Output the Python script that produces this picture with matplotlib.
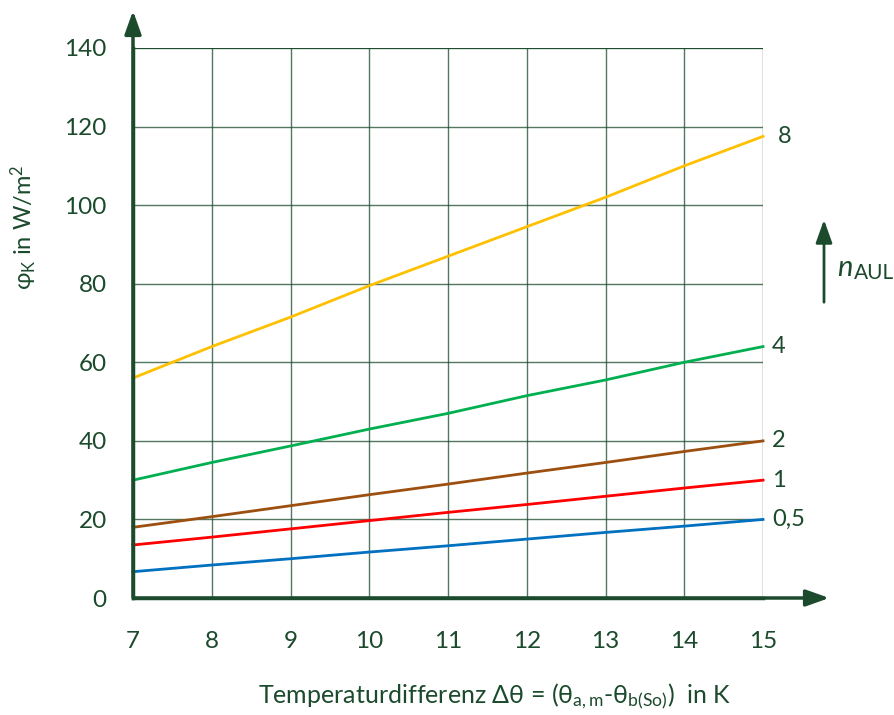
import matplotlib.pyplot as plt

dt = [7, 8, 9, 10, 11, 12, 13, 14, 15]
phi_8 = [56, 64, 71.5, 79.5, 87, 94.5, 102, 110, 117.5]
phi_4 = [30, 34.5, 38.7, 43, 47, 51.5, 55.5, 60, 64]
phi_2 = [18, 20.7, 23.5, 26.3, 29, 31.8, 34.5, 37.3, 40]
phi_1 = [13.5, 15.5, 17.6, 19.7, 21.8, 23.8, 25.9, 28, 30]
phi_05 = [6.7, 8.4, 10, 11.7, 13.3, 15, 16.7, 18.3, 20]
n_labels = ['8', '4', '2', '1', '0,5']
y_ticks = [0, 20, 40, 60, 80, 100, 120, 140]

dk = '#1b4a2c'
plt.rcParams['font.family'] = ['Lato', 'DejaVu Sans']
plt.rcParams['mathtext.fontset'] = 'custom'
plt.rcParams['mathtext.rm'] = 'Lato'
plt.rcParams['mathtext.it'] = 'Lato:italic'

fig = plt.figure(figsize=(8.94, 7.15), dpi=100)
ax = fig.add_axes([0.1488, 0.1636, 0.8535 - 0.1488, 0.9329 - 0.1636])
ax.set_xlim(7, 15)
ax.set_ylim(0, 140)
ax.set_xticks(dt)
ax.set_yticks(y_ticks)
ax.grid(True, color=dk, linewidth=1, alpha=0.75)
ax.tick_params(length=0, labelsize=17.5, colors=dk)
ax.tick_params(axis='y', pad=19)
ax.tick_params(axis='x', pad=24)
for s in ['top', 'right']:
    ax.spines[s].set_visible(False)
ax.spines['left'].set_color(dk)
ax.spines['bottom'].set_color(dk)
ax.spines['left'].set_linewidth(2.5)
ax.spines['bottom'].set_linewidth(2.5)
ax.axhline(140, color=dk, linewidth=1.3)

series = [(phi_8, '#ffc000'), (phi_4, '#00b050'), (phi_2, '#9c4f0f'),
          (phi_1, '#ff0000'), (phi_05, '#0070c0')]
offs = [0.27, 0.2, 0.2, 0.2, 0.33]
for (vals, c), lab, ox in zip(series, n_labels, offs):
    ax.plot(dt, vals, color=c, linewidth=2, clip_on=False)
    ax.text(15 + ox, vals[-1], lab, fontsize=17, color=dk,
            ha='center', va='center', clip_on=False)

# axis arrows
ax.annotate('', xy=(133 / 894, 1 - 8 / 715), xytext=(133 / 894, 1 - 600 / 715),
            xycoords='figure fraction', textcoords='figure fraction',
            arrowprops=dict(arrowstyle='-|>,head_length=1.4,head_width=0.5',
                            color=dk, lw=2.5))
ax.annotate('', xy=(832 / 894, 1 - 598 / 715), xytext=(131 / 894, 1 - 598 / 715),
            xycoords='figure fraction', textcoords='figure fraction',
            arrowprops=dict(arrowstyle='-|>,head_length=1.4,head_width=0.5',
                            color=dk, lw=2.5))
# n_AUL arrow
ax.annotate('', xy=(824 / 894, 1 - 217 / 715), xytext=(824 / 894, 1 - 305 / 715),
            xycoords='figure fraction', textcoords='figure fraction',
            arrowprops=dict(arrowstyle='-|>,head_length=1.4,head_width=0.5',
                            color=dk, lw=2))
fig.text(837 / 894, 1 - 268 / 715, r'$n$', fontsize=21, color=dk, va='center')
fig.text(854 / 894, 1 - 273 / 715, 'AUL', fontsize=15, color=dk, va='center')

fig.text(24 / 894, 1 - 227 / 715, r'φ$_\mathrm{K}$ in W/m$^2$', rotation=90,
         fontsize=17, color=dk, ha='center', va='center')
fig.text(495 / 894, 1 - 697 / 715,
         r'Temperaturdifferenz Δθ = (θ$_\mathrm{a,m}$-θ$_\mathrm{b(So)}$)  in K',
         fontsize=18, color=dk, ha='center', va='center')

fig.savefig('out.png', dpi=100)
